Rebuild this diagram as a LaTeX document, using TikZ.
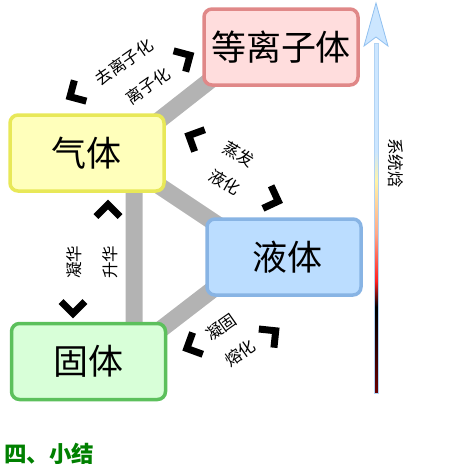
\documentclass[tikz,border=0pt]{standalone}
\usepackage{fontspec}
\setmainfont{Noto Sans CJK SC}
\usetikzlibrary{arrows.meta}

\definecolor{plasmafill}{HTML}{FFDDDD}
\definecolor{plasmaline}{HTML}{E08888}
\definecolor{gasfill}{HTML}{FFFFBB}
\definecolor{gasline}{HTML}{E8E858}
\definecolor{liquidfill}{HTML}{BBDDFF}
\definecolor{liquidline}{HTML}{88B4E4}
\definecolor{solidfill}{HTML}{D8FFD8}
\definecolor{solidline}{HTML}{5CC05C}
\definecolor{bargray}{HTML}{B3B3B3}
\definecolor{titlegreen}{HTML}{008000}
\definecolor{hlow}{HTML}{6A0000}
\definecolor{hred}{HTML}{FF2020}
\definecolor{hpeach}{HTML}{FFA888}
\definecolor{hyellow}{HTML}{FFF4A8}
\definecolor{hblue}{HTML}{CCE6FF}
\definecolor{hline}{HTML}{90C0F0}

\pgfdeclareverticalshading{enthalpy}{100bp}{color(0bp)=(hlow); color(25bp)=(hlow);
  color(36.5bp)=(black); color(37.3bp)=(black); color(41bp)=(hred);
  color(47.8bp)=(hpeach); color(55.3bp)=(hyellow); color(59.5bp)=(hblue);
  color(75bp)=(hblue); color(100bp)=(hblue)}

\begin{document}
\begin{tikzpicture}[x=1pt, y=1pt,
    phase/.style = {draw, rounded corners=8, line width=3.5, minimum width=154,
      minimum height=76, inner sep=0, font=\fontsize{35}{35}\selectfont},
    lbl/.style = {inner sep=0, font=\fontsize{16.5}{16.5}\selectfont},
    bar/.style = {draw=bargray, line width=17},
    chev/.pic = {\draw[line width=7, line join=miter] (-8.5,12) -- (3.5,0) -- (-8.5,-12);}]
  \useasboundingbox (0,0) rectangle (460,-464);

  % gray links behind the boxes
  \coordinate (gp) at (134,-140);
  \coordinate (gl) at (134,-169);
  \coordinate (sl) at (134,-350);
  \coordinate (pc) at (250,-49);
  \coordinate (lc) at (260,-253);
  \draw[bar] (pc) -- (gp) -- (sl) -- (lc) -- (gl);

  \node[phase, fill=plasmafill, draw=plasmaline] (plasma) at (281,-47) {等离子体};
  \node[phase, fill=gasfill, draw=gasline] (gas) at (87,-153) {气体};
  \node[phase, fill=liquidfill, draw=liquidline] (liquid) at (284,-257) {\hspace*{6pt}液体};
  \node[phase, fill=solidfill, draw=solidline] (solid) at (88.5,-361.5) {固体};

  % transitions
  \node[lbl, rotate=35] (deion) at (124,-62) {去离子化};
  \node[lbl, rotate=35] (ion) at (148,-86) {离子化};
  \node[lbl, rotate=-30] (evap) at (239,-154) {蒸发};
  \node[lbl, rotate=-30] (cond) at (225,-182) {液化};
  \node[lbl, rotate=90] (depo) at (74,-262) {凝华};
  \node[lbl, rotate=90] (subl) at (110,-262) {升华};
  \node[lbl, rotate=35] (frz) at (221,-327) {凝固};
  \node[lbl, rotate=35] (melt) at (240,-353) {熔化};

  \pic (c1) [rotate=210] at (73,-95) {chev};
  \pic (c2) [rotate=30] at (187,-57) {chev};
  \pic (c3) [rotate=155] at (192,-137) {chev};
  \pic (c4) [rotate=-20] at (275,-200) {chev};
  \pic (c5) [rotate=90] at (108,-208) {chev};
  \pic (c6) [rotate=-90] at (73,-310) {chev};
  \pic (c7) [rotate=205] at (190,-347) {chev};
  \pic (c8) [rotate=39] at (273,-333) {chev};

  % enthalpy axis
  \coordinate (hbot) at (376,-393);
  \coordinate (htop) at (376,-3);
  \shade[shading=enthalpy, draw=hline!70, line width=0.5]
    ([xshift=-2]hbot) rectangle ([xshift=2,yshift=-40]htop);
  \filldraw[fill=hblue, draw=hline, line width=0.8] (htop) -- ++(12,-43) -- ++(-12,9) -- ++(-12,-9) -- cycle;
  \node[lbl, rotate=-90] (hlabel) at (396,-163) {系统焓};

  \node[anchor=west, inner sep=0, text=titlegreen, font=\bfseries\fontsize{22.5}{22.5}\selectfont] (title) at (4,-454) {四、小结};
\end{tikzpicture}
\end{document}
